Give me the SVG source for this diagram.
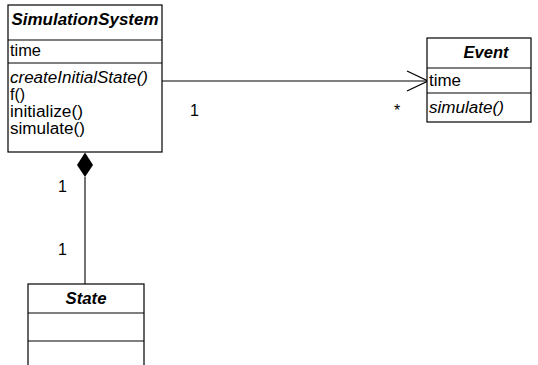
<svg xmlns="http://www.w3.org/2000/svg" width="538" height="365" viewBox="0 0 538 365">
  <style>
    .box { fill: #fff; stroke: #000; stroke-width: 1.2; }
    .sep { stroke: #000; stroke-width: 1.2; }
    .title { font-family: "Liberation Sans", Arial, sans-serif; font-size: 16px; font-weight: bold; font-style: italic; fill: #000; }
    .txt { font-family: "Liberation Sans", Arial, sans-serif; font-size: 16px; fill: #000; }
    .abs { font-style: italic; }
    .edge { fill: none; stroke: #000; stroke-width: 1.1; }
  </style>
  <defs>
    <marker id="open-arrow" markerWidth="24" markerHeight="24" refX="22" refY="11" orient="auto" markerUnits="userSpaceOnUse">
      <path d="M1,1 L22,11 L1,21" fill="none" stroke="#000" stroke-width="1.3"/>
    </marker>
  </defs>

  <!-- connectors -->
  <g id="connectors">
    <line class="edge" x1="162" y1="81" x2="428" y2="81" marker-end="url(#open-arrow)"/>
    <text class="txt" x="190" y="116">1</text>
    <text class="txt" x="394" y="116">*</text>
    <!-- composition diamond on the SimulationSystem end -->
    <path d="M77,165 L85,152.5 L93,165 L85,177 Z" fill="#000"/>
    <line class="edge" x1="85" y1="177" x2="85" y2="284"/>
    <text class="txt" x="58" y="192">1</text>
    <text class="txt" x="58" y="255">1</text>
  </g>

  <!-- class SimulationSystem -->
  <g id="SimulationSystem">
    <rect class="box" x="8" y="5" width="154" height="147"/>
    <line class="sep" x1="8" y1="40" x2="162" y2="40"/>
    <line class="sep" x1="8" y1="63" x2="162" y2="63"/>
    <text class="title" x="85" y="25" text-anchor="middle" textLength="147" lengthAdjust="spacingAndGlyphs">SimulationSystem</text>
    <text class="txt" x="10" y="56" textLength="31" lengthAdjust="spacingAndGlyphs">time</text>
    <text class="txt abs" x="10" y="83" textLength="138" lengthAdjust="spacingAndGlyphs">createInitialState()</text>
    <text class="txt" x="10" y="100">f()</text>
    <text class="txt" x="10" y="117" textLength="73" lengthAdjust="spacingAndGlyphs">initialize()</text>
    <text class="txt" x="10" y="134" textLength="75" lengthAdjust="spacingAndGlyphs">simulate()</text>
  </g>

  <!-- class Event -->
  <g id="Event">
    <rect class="box" x="427" y="38" width="104" height="84"/>
    <line class="sep" x1="427" y1="68" x2="531" y2="68"/>
    <line class="sep" x1="427" y1="93" x2="531" y2="93"/>
    <text class="title" x="486" y="58" text-anchor="middle" textLength="45" lengthAdjust="spacingAndGlyphs">Event</text>
    <text class="txt" x="429" y="86" textLength="32" lengthAdjust="spacingAndGlyphs">time</text>
    <text class="txt abs" x="429" y="113" textLength="75" lengthAdjust="spacingAndGlyphs">simulate()</text>
  </g>

  <!-- class State -->
  <g id="State">
    <rect class="box" x="28" y="284" width="116" height="100"/>
    <line class="sep" x1="28" y1="313" x2="144" y2="313"/>
    <line class="sep" x1="28" y1="341" x2="144" y2="341"/>
    <text class="title" x="86" y="304" text-anchor="middle" textLength="41" lengthAdjust="spacingAndGlyphs">State</text>
  </g>
</svg>
